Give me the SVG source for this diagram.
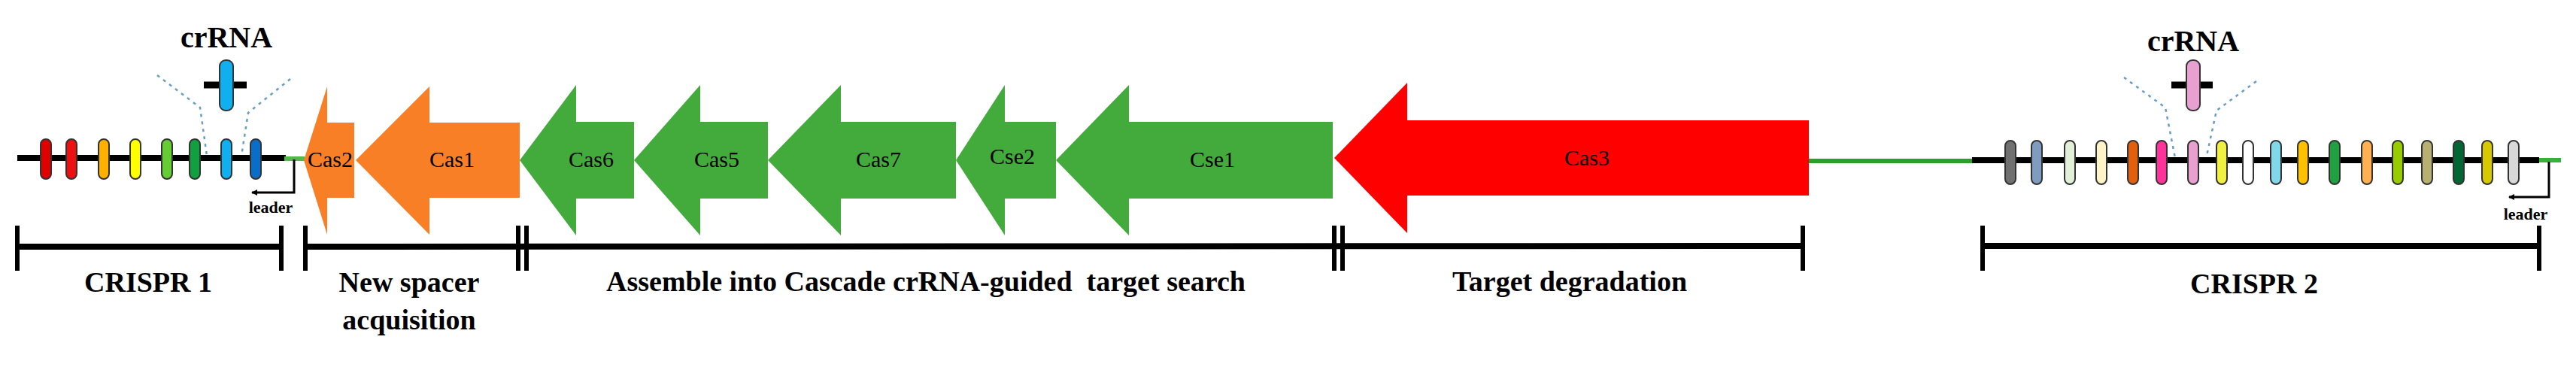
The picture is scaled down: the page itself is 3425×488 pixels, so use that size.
<svg xmlns="http://www.w3.org/2000/svg" width="3425" height="488" viewBox="0 0 3425 488">
<style>
text{font-family:"Liberation Serif","Times New Roman",serif;font-weight:bold;fill:#000;text-anchor:middle}
.lbl{font-size:38px}
.gene{font-size:30px;font-weight:normal}
.crr{font-size:40px}
.ld{font-size:22px}
.br{stroke:#000;stroke-width:8;fill:none}
.tk{stroke:#000;stroke-width:6;fill:none}
.sp{stroke:#333;stroke-width:2}
.dash{stroke:#6a9ec0;stroke-width:2.5;stroke-dasharray:4 6;fill:none}
.org{fill:#f97f27}
.grn{fill:#43ab3b}
.red{fill:#ff0000}
</style>
<defs>
<marker id="ah" markerWidth="8" markerHeight="8" refX="7" refY="4" orient="auto" markerUnits="userSpaceOnUse" viewBox="0 0 8 8"><path d="M0,4 L8,0 L8,8 Z" fill="#000" transform="rotate(180 4 4)"/></marker>
</defs>
<g id="backbone">
<line x1="23" y1="210" x2="380" y2="210" stroke="#000" stroke-width="8"/>
<line x1="378" y1="211" x2="405" y2="211" stroke="#52b848" stroke-width="6"/>
<line x1="2405" y1="214" x2="2624" y2="214" stroke="#2aa02a" stroke-width="6"/>
<line x1="2622" y1="213" x2="3376" y2="213" stroke="#000" stroke-width="8"/>
<line x1="3376" y1="213" x2="3405" y2="213" stroke="#39b139" stroke-width="6"/>
</g>
<g id="crispr1-spacers" class="sp">
<rect x="54" y="185" width="14" height="53" rx="7" fill="#e00000"/>
<rect x="88" y="185" width="14" height="53" rx="7" fill="#ee1010"/>
<rect x="131" y="185" width="14" height="53" rx="7" fill="#ffb000"/>
<rect x="173" y="185" width="14" height="53" rx="7" fill="#ffff00"/>
<rect x="215" y="185" width="14" height="53" rx="7" fill="#66cc33"/>
<rect x="252" y="185" width="14" height="53" rx="7" fill="#10a040"/>
<rect x="294" y="185" width="14" height="53" rx="7" fill="#10b0f0"/>
<rect x="333" y="185" width="14" height="53" rx="7" fill="#0a6ec8"/>
</g>
<g id="crrna1">
<text class="crr" x="301" y="63">crRNA</text>
<line x1="271" y1="113" x2="328" y2="113" stroke="#000" stroke-width="9"/>
<rect x="292" y="80" width="18" height="67" rx="8" fill="#10b0f0" stroke="#333" stroke-width="2"/>
<polyline class="dash" points="209,100 266,143 275,207"/>
<polyline class="dash" points="386,105 330,150 321,207"/>
</g>
<g id="leader1">
<polyline points="391,212 391,256 335,256" fill="none" stroke="#000" stroke-width="3" marker-end="url(#ah)"/>
<text class="ld" x="360" y="283">leader</text>
</g>
<g id="cas2"><polygon class="org" points="404,213 435,115 435,163 471,163 471,263 435,263 435,312"/><text class="gene" x="439" y="222">Cas2</text></g>
<g id="cas1"><polygon class="org" points="473,213 571,115 571,163 691,163 691,263 571,263 571,312"/><text class="gene" x="601" y="222">Cas1</text></g>
<g id="cas6"><polygon class="grn" points="691,213 766,113 766,162 843,162 843,264 766,264 766,313"/><text class="gene" x="786" y="222">Cas6</text></g>
<g id="cas5"><polygon class="grn" points="843,213 931,113 931,162 1021,162 1021,264 931,264 931,313"/><text class="gene" x="953" y="222">Cas5</text></g>
<g id="cas7"><polygon class="grn" points="1021,213 1118,113 1118,162 1271,162 1271,264 1118,264 1118,313"/><text class="gene" x="1168" y="222">Cas7</text></g>
<g id="cse2"><polygon class="grn" points="1271,213 1336,113 1336,162 1404,162 1404,264 1336,264 1336,313"/><text class="gene" x="1346" y="218">Cse2</text></g>
<g id="cse1"><polygon class="grn" points="1404,213 1501,113 1501,162 1772,162 1772,264 1501,264 1501,313"/><text class="gene" x="1612" y="222">Cse1</text></g>
<g id="cas3"><polygon class="red" points="1774,210 1871,110 1871,160 2405,160 2405,260 1871,260 1871,310"/><text class="gene" x="2110" y="220">Cas3</text></g>
<g id="crispr2-spacers" class="sp">
<rect x="2666" y="187" width="14" height="58" rx="7" fill="#707070"/>
<rect x="2701" y="187" width="14" height="58" rx="7" fill="#7f9cc0"/>
<rect x="2745" y="187" width="14" height="58" rx="7" fill="#e2f0da"/>
<rect x="2787" y="187" width="14" height="58" rx="7" fill="#fff3c8"/>
<rect x="2829" y="187" width="14" height="58" rx="7" fill="#e06010"/>
<rect x="2867" y="187" width="14" height="58" rx="7" fill="#ff3399"/>
<rect x="2909" y="187" width="14" height="58" rx="7" fill="#e8a0d0"/>
<rect x="2947" y="187" width="14" height="58" rx="7" fill="#f0f040"/>
<rect x="2982" y="187" width="14" height="58" rx="7" fill="#ffffff"/>
<rect x="3019" y="187" width="14" height="58" rx="7" fill="#80d8e8"/>
<rect x="3055" y="187" width="14" height="58" rx="7" fill="#ffc000"/>
<rect x="3097" y="187" width="14" height="58" rx="7" fill="#20a040"/>
<rect x="3140" y="187" width="14" height="58" rx="7" fill="#ffb050"/>
<rect x="3181" y="187" width="14" height="58" rx="7" fill="#99cc00"/>
<rect x="3220" y="187" width="14" height="58" rx="7" fill="#b8b070"/>
<rect x="3262" y="187" width="14" height="58" rx="7" fill="#006633"/>
<rect x="3300" y="187" width="14" height="58" rx="7" fill="#d8c800"/>
<rect x="3335" y="187" width="14" height="58" rx="7" fill="#d8d8d8"/>
</g>
<g id="crrna2">
<text class="crr" x="2916" y="68">crRNA</text>
<line x1="2887" y1="113" x2="2942" y2="113" stroke="#000" stroke-width="9"/>
<rect x="2907" y="80" width="18" height="67" rx="8" fill="#e8a0d0" stroke="#333" stroke-width="2"/>
<polyline class="dash" points="2824,103 2879,143 2892,210"/>
<polyline class="dash" points="3000,108 2947,147 2934,207"/>
</g>
<g id="leader2">
<polyline points="3389,215 3389,262 3336,262" fill="none" stroke="#000" stroke-width="3" marker-end="url(#ah)"/>
<text class="ld" x="3358" y="292">leader</text>
</g>
<g id="connectors">
<line class="br" x1="23" y1="328" x2="374" y2="328"/>
<line class="tk" x1="23" y1="300" x2="23" y2="360"/><line class="tk" x1="374" y1="300" x2="374" y2="360"/>
<line class="br" x1="406" y1="328" x2="2397" y2="327"/>
<line class="tk" x1="406" y1="300" x2="406" y2="360"/>
<line class="tk" x1="689" y1="300" x2="689" y2="360"/><line class="tk" x1="700" y1="300" x2="700" y2="360"/>
<line class="tk" x1="1774" y1="300" x2="1774" y2="360"/><line class="tk" x1="1785" y1="300" x2="1785" y2="360"/>
<line class="tk" x1="2397" y1="300" x2="2397" y2="360"/>
<line class="br" x1="2636" y1="327" x2="3376" y2="327"/>
<line class="tk" x1="2636" y1="300" x2="2636" y2="360"/><line class="tk" x1="3376" y1="300" x2="3376" y2="360"/>
</g>
<g id="labels">
<text class="lbl" x="197" y="388">CRISPR 1</text>
<text class="lbl" x="544" y="388">New spacer</text>
<text class="lbl" x="544" y="438">acquisition</text>
<text class="lbl" x="1231" y="387" xml:space="preserve">Assemble into Cascade crRNA-guided  target search</text>
<text class="lbl" x="2087" y="387">Target degradation</text>
<text class="lbl" x="2997" y="390">CRISPR 2</text>
</g>
</svg>
